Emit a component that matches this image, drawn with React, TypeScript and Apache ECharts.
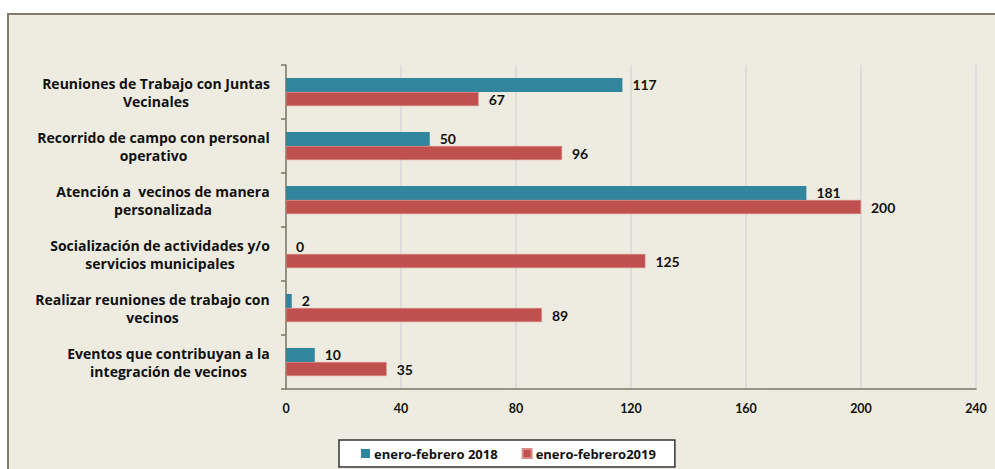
import React, { useEffect, useRef } from "react";
import * as echarts from "echarts";

const categories: string[][] = [
  ["Reuniones de Trabajo con Juntas", "Vecinales"],
  ["Recorrido de campo con personal", "operativo"],
  ["Atención a  vecinos de manera", "personalizada"],
  ["Socialización de actividades y/o", "servicios municipales"],
  ["Realizar reuniones de trabajo con", "vecinos"],
  ["Eventos que contribuyan a la", "integración de vecinos"],
];
const series2018Name = "enero-febrero 2018";
const series2019Name = "enero-febrero2019";
const values2018: number[] = [117, 50, 181, 0, 2, 10];
const values2019: number[] = [67, 96, 200, 125, 89, 35];
const xTicks = { min: 0, max: 240, interval: 40 };

const FONT = "Lato, 'Open Sans', sans-serif";
const CAT_FONT = "'Open Sans', Lato, sans-serif";
const LABEL_FONT_SIZE = 14;

function measure(text: string): number {
  const c = document.createElement("canvas");
  const ctx = c.getContext("2d");
  if (!ctx) return text.length * 7;
  ctx.font = `bold ${LABEL_FONT_SIZE}px 'Open Sans'`;
  return ctx.measureText(text).width;
}

export default function App() {
  const ref = useRef<HTMLDivElement>(null);
  useEffect(() => {
    if (!ref.current) return;
    const chart = echarts.init(ref.current, null, { renderer: "svg" });
    const rich: Record<string, any> = {};
    categories.forEach((lines, i) => {
      const w = Math.ceil(Math.max(...lines.map(measure)));
      rich["l" + i] = {
        width: w,
        align: "center",
        fontSize: LABEL_FONT_SIZE,
        fontWeight: "bold",
        fontFamily: CAT_FONT,
        color: "#111",
        lineHeight: 18,
      };
    });
    const catKeys = categories.map((_, i) => String(i));
    chart.setOption({
      animation: false,
      backgroundColor: "#ffffff",
      graphic: [
        {
          type: "rect",
          z: -10,
          silent: true,
          shape: { x: 8, y: 14, width: 1000, height: 470 },
          style: { fill: "#EEECE1", stroke: "#7f7d68", lineWidth: 2 },
        },
      ],
      grid: { left: 286, right: 19, top: 65, bottom: 80, containLabel: false },
      legend: {
        left: 339,
        top: 440,
        orient: "horizontal",
        backgroundColor: "#ffffff",
        borderColor: "#333333",
        borderWidth: 1.5,
        padding: [7, 19, 7, 22],
        itemGap: 24,
        itemWidth: 9,
        itemHeight: 9,
        icon: "rect",
        textStyle: {
          fontFamily: CAT_FONT,
          fontSize: 13,
          fontWeight: "bold",
          color: "#111",
          padding: [0, 0, 0, -1],
        },
        data: [series2018Name, series2019Name],
      },
      xAxis: {
        type: "value",
        min: xTicks.min,
        max: xTicks.max,
        interval: xTicks.interval,
        axisLine: { show: true, lineStyle: { color: "#7a7760", width: 1.5 } },
        axisTick: { show: false },
        splitLine: { show: true, lineStyle: { color: "#d9d9d9", width: 1.5 } },
        axisLabel: {
          margin: 13,
          fontFamily: FONT,
          fontSize: 12.5,
          fontWeight: "bold",
          color: "#111",
        },
      },
      yAxis: {
        type: "category",
        inverse: true,
        data: catKeys,
        axisLine: { show: true, lineStyle: { color: "#7a7760", width: 1.5 } },
        axisTick: { show: true, length: 5, lineStyle: { color: "#7a7760", width: 1.5 } },
        splitLine: { show: false },
        axisLabel: {
          margin: 16,
          align: "right",
          rich,
          formatter: (v: string) => {
            const i = Number(v);
            return categories[i].map((l) => `{l${i}|${l}}`).join("\n");
          },
        },
      },
      series: [
        {
          name: series2018Name,
          type: "bar",
          data: values2018,
          barGap: "0%",
          barCategoryGap: "48%",
          itemStyle: { color: "#31859C" },
          label: {
            show: true,
            position: "right",
            distance: 10,
            fontFamily: FONT,
            fontSize: 14,
            fontWeight: "bold",
            color: "#111",
          },
        },
        {
          name: series2019Name,
          type: "bar",
          data: values2019,
          barGap: "0%",
          barCategoryGap: "48%",
          itemStyle: { color: "#C0504D", borderColor: "#d98a88", borderWidth: 0.5 },
          label: {
            show: true,
            position: "right",
            distance: 10,
            fontFamily: FONT,
            fontSize: 14,
            fontWeight: "bold",
            color: "#111",
          },
        },
      ],
    });
    return () => chart.dispose();
  }, []);
  return (
    <div
      ref={ref}
      style={{ position: "fixed", left: 0, top: 0, width: 995, height: 469 }}
    />
  );
}
